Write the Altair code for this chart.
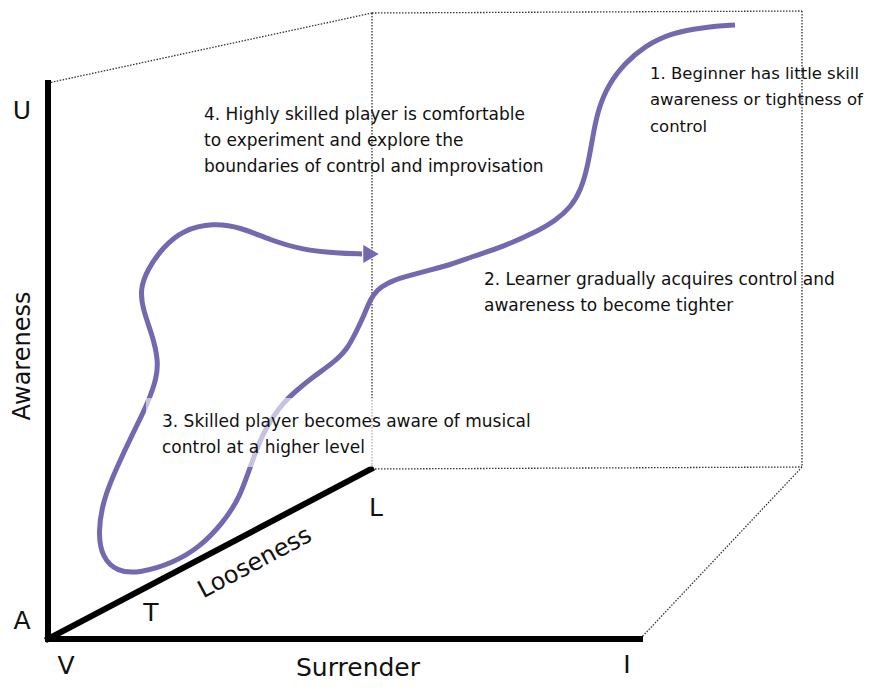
import altair as alt
import pandas as pd

FONT = "DejaVu Sans"
PURPLE = "#7468B0"

# thick black axes (x1, y1, x2, y2) in picture pixels
axis_x1 = [48, 48, 48]
axis_y1 = [83, 639, 639]
axis_x2 = [48, 640, 371]
axis_y2 = [639, 639, 469]

# dotted box edges
dot_x1 = [48, 372, 802, 372, 372, 802]
dot_y1 = [83, 13, 11, 469, 13, 467]
dot_x2 = [372, 802, 802, 802, 372, 640]
dot_y2 = [13, 11, 467, 467, 469, 639]

# learning curve
curve_x = [735, 735, 705, 671, 645, 625, 608, 598, 593, 588, 581, 571, 555, 538, 505, 471, 450, 430, 403, 387, 377,
           370, 365, 357, 347, 333, 313, 297, 283, 273, 263, 250, 240, 223, 200, 173, 140, 117, 102, 98, 103, 117,
           133, 148, 157, 158, 153, 143, 140, 147, 163, 183, 213, 240, 270, 303, 337, 362, 362]
curve_y = [25, 25, 27, 33, 46, 63, 85, 110, 135, 165, 190, 207, 221, 231, 246, 257, 265, 270, 277, 283, 290,
           300, 313, 330, 350, 363, 377, 390, 403, 417, 433, 467, 497, 523, 547, 563, 573, 572, 557, 533, 500, 467,
           433, 403, 377, 360, 337, 310, 290, 270, 247, 230, 223, 227, 240, 250, 253, 254, 254]

arrow_x = [371]
arrow_y = [254]

# translucent label backing for note 3
box_x = [146]
box_y = [398]
box_x2 = [545]
box_y2 = [467]

# annotations (one row per line)
note_text = [
    "1. Beginner has little skill", "awareness or tightness of", "control",
    "2. Learner gradually acquires control and", "awareness to become tighter",
    "3. Skilled player becomes aware of musical", "control at a higher level",
    "4. Highly skilled player is comfortable", "to experiment and explore the",
    "boundaries of control and improvisation",
]
note_x = [650, 650, 650, 484, 484, 162, 162, 204, 204, 204]
note_y = [74, 100, 127, 280, 306, 422, 448, 115, 141, 167]
note_size = [16.5, 16.5, 16.5, 17, 17, 17, 17, 17, 17, 17]

# axis letters / names
lab_text = ["U", "A", "V", "T", "L", "I", "Surrender"]
lab_x = [22, 22, 66, 151, 376, 627, 358]
lab_y = [111, 621, 666, 613, 508, 665, 668]

xs = alt.Scale(domain=[8, 870], nice=False, zero=False)
ys = alt.Scale(domain=[681, 8], nice=False, zero=False)
X = lambda f: alt.X(f, type="quantitative", scale=xs, axis=None)
Y = lambda f: alt.Y(f, type="quantitative", scale=ys, axis=None)

axes_df = pd.DataFrame({"x": axis_x1, "y": axis_y1, "x2": axis_x2, "y2": axis_y2})
dots_df = pd.DataFrame({"x": dot_x1, "y": dot_y1, "x2": dot_x2, "y2": dot_y2})
curve_df = pd.DataFrame({"x": curve_x, "y": curve_y, "i": list(range(len(curve_x)))})
arrow_df = pd.DataFrame({"x": arrow_x, "y": arrow_y})
box_df = pd.DataFrame({"x": box_x, "y": box_y, "x2": box_x2, "y2": box_y2})
note_df = pd.DataFrame({"t": note_text, "x": note_x, "y": note_y, "s": note_size})
lab_df = pd.DataFrame({"t": lab_text, "x": lab_x, "y": lab_y})

dots = alt.Chart(dots_df).mark_rule(color="#333333", strokeWidth=1.3, strokeDash=[1.5, 1.5]).encode(
    x=X("x"), y=Y("y"), x2="x2", y2="y2")
axes = alt.Chart(axes_df).mark_rule(color="black", strokeWidth=6, strokeCap="square").encode(
    x=X("x"), y=Y("y"), x2="x2", y2="y2")
curve = alt.Chart(curve_df).mark_line(color=PURPLE, strokeWidth=5, interpolate="basis").encode(
    x=X("x"), y=Y("y"), order="i")
arrow = alt.Chart(arrow_df).mark_point(shape="triangle-right", filled=True, color=PURPLE, opacity=1, size=320).encode(
    x=X("x"), y=Y("y"))
box = alt.Chart(box_df).mark_rect(color="white", opacity=0.6).encode(
    x=X("x"), y=Y("y"), x2="x2", y2="y2")
notes = alt.Chart(note_df).mark_text(font=FONT, align="left", baseline="middle", color="#111111").encode(
    x=X("x"), y=Y("y"), text="t", size=alt.Size("s:Q", scale=None, legend=None))
labs = alt.Chart(lab_df).mark_text(font=FONT, fontSize=25, align="center", baseline="middle", color="#111111").encode(
    x=X("x"), y=Y("y"), text="t")
aw = alt.Chart(pd.DataFrame({"t": ["Awareness"], "x": [23], "y": [356]})).mark_text(
    font=FONT, fontSize=24, angle=270, align="center", baseline="middle", color="#111111").encode(
    x=X("x"), y=Y("y"), text="t")
lo = alt.Chart(pd.DataFrame({"t": ["Looseness"], "x": [255], "y": [563]})).mark_text(
    font=FONT, fontSize=24, angle=332, align="center", baseline="middle", color="#111111").encode(
    x=X("x"), y=Y("y"), text="t")

chart = alt.layer(dots, axes, curve, arrow, box, notes, labs, aw, lo).properties(
    width=862, height=673, padding=0, autosize="none", background="white"
).configure_view(stroke=None)

chart.save("out.html", embed_options={"renderer": "svg", "actions": False})
